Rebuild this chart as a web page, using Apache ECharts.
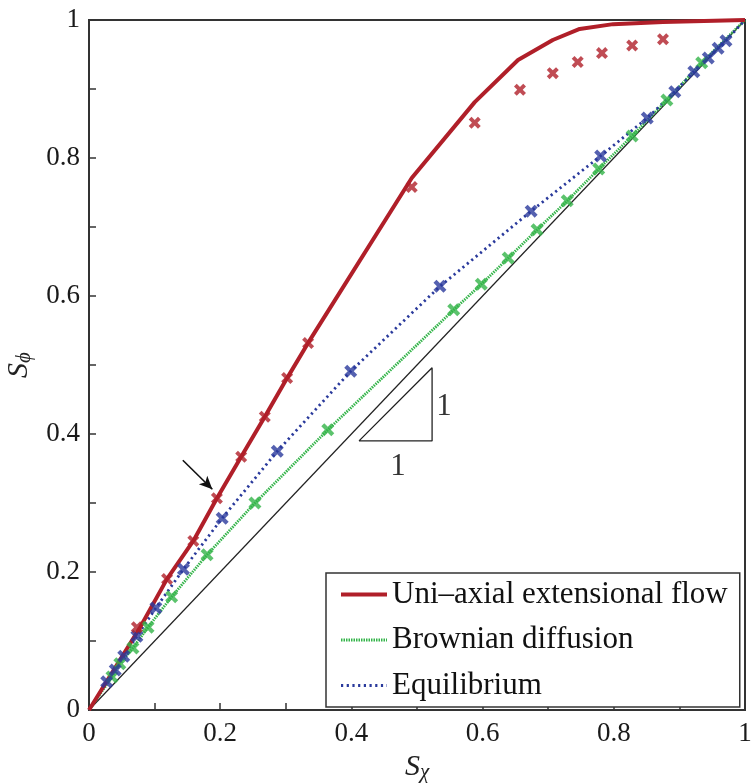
<!DOCTYPE html>
<html>
<head>
<meta charset="utf-8">
<title>S_phi vs S_chi</title>
<script src="https://cdn.jsdelivr.net/npm/echarts@6/dist/echarts.min.js"></script>
<style>
  html, body { margin: 0; padding: 0; background: #fff; }
  #main { width: 751px; height: 783px; }
</style>
</head>
<body>
<div id="main"></div>
<script type="text/javascript">
// ticks
var tickLabels = ['0', '0.2', '0.4', '0.6', '0.8', '1'];

// uni-axial extensional flow: model curve (solid) and simulation crosses
var flowLine = [[0, 0], [0.078, 0.12], [0.119, 0.19], [0.159, 0.245], [0.195, 0.307], [0.232, 0.367],
    [0.268, 0.425], [0.302, 0.481], [0.334, 0.532], [0.492, 0.771], [0.588, 0.881], [0.654, 0.942],
    [0.707, 0.971], [0.748, 0.987], [0.799, 0.994], [0.875, 0.997], [1, 1]];
var flowPts = [[0.073, 0.12], [0.119, 0.19], [0.159, 0.245], [0.195, 0.307], [0.232, 0.367],
    [0.268, 0.425], [0.302, 0.481], [0.334, 0.532], [0.492, 0.758], [0.588, 0.851], [0.657, 0.899],
    [0.707, 0.923], [0.745, 0.939], [0.782, 0.952], [0.828, 0.963], [0.875, 0.972]];

// brownian diffusion
var brownPts = [[0.035, 0.048], [0.047, 0.067], [0.067, 0.09], [0.09, 0.12], [0.126, 0.164],
    [0.18, 0.225], [0.253, 0.3], [0.364, 0.406], [0.556, 0.58], [0.598, 0.617], [0.639, 0.655],
    [0.683, 0.696], [0.729, 0.738], [0.777, 0.784], [0.828, 0.832], [0.881, 0.884], [0.934, 0.938]];

// equilibrium
var equilPts = [[0.027, 0.041], [0.04, 0.058], [0.053, 0.078], [0.073, 0.107], [0.102, 0.148],
    [0.144, 0.204], [0.203, 0.278], [0.287, 0.375], [0.399, 0.491], [0.535, 0.614], [0.674, 0.723],
    [0.78, 0.803], [0.851, 0.858], [0.893, 0.896], [0.922, 0.925], [0.944, 0.945], [0.959, 0.959],
    [0.971, 0.97]];

var diagonal = [[0, 0], [1, 1]];
var slopeTri = [[0.4116, 0.39], [0.523, 0.39], [0.523, 0.496], [0.4116, 0.39]];
var slopeText = [[0.471, 0.352], [0.541, 0.439]];
var arrow = [[0.143, 0.362], [0.188, 0.32]];

var RED = '#b01f29', GREEN = '#33b449', BLUE = '#2a3a9c';
var FONT = '"Times New Roman", "Liberation Serif", serif';
var cross = 'path://M2.3,0L5,2.7L7.7,0L10,2.3L7.3,5L10,7.7L7.7,10L5,7.3L2.3,10L0,7.7L2.7,5L0,2.3Z';

function withEnds(pts) {
    return [[0, 0]].concat(pts, [[1, 1]]);
}

var nameRich = {
    i: { fontFamily: FONT, fontStyle: 'italic', fontSize: 30, color: '#222' },
    s: { fontFamily: FONT, fontStyle: 'italic', fontSize: 21, color: '#222', padding: [12, 0, 0, 0] }
};

function tickFmt(v) {
    var k = Math.round(v * 10);
    return k % 2 === 0 ? tickLabels[k / 2] : '';
}

var myChart = echarts.init(document.getElementById('main'));

myChart.setOption({
    animation: false,
    backgroundColor: '#fff',
    textStyle: { fontFamily: FONT },
    grid: {
        left: 89, top: 20, width: 656, height: 690,
        outerBoundsMode: 'none', containLabel: false,
        show: true, borderColor: '#333', borderWidth: 2, backgroundColor: 'transparent'
    },
    legend: {
        left: 326, top: 573,
        orient: 'vertical',
        data: [
            { name: 'Uni\u2013axial extensional flow', lineStyle: { width: 4 } },
            { name: 'Brownian diffusion', lineStyle: { width: 2.8 } },
            { name: 'Equilibrium', lineStyle: { width: 2.8 } }
        ],
        backgroundColor: '#fff',
        borderColor: '#333', borderWidth: 1.5, borderRadius: 0,
        padding: [6, 12, 6, 13],
        itemWidth: 46, itemHeight: 14, itemGap: 14.5,
        itemStyle: { opacity: 0 },
        textStyle: { fontFamily: FONT, fontSize: 31, lineHeight: 30, color: '#111' }
    },
    xAxis: {
        type: 'value', min: 0, max: 1, interval: 0.1,
        name: '{i|S}{s|\u03c7}',
        nameLocation: 'middle', nameGap: 38,
        nameTextStyle: { rich: nameRich },
        axisLine: { show: true, lineStyle: { color: '#333', width: 2 } },
        axisTick: { show: true, inside: true, length: 7, lineStyle: { color: '#333', width: 1.5 } },
        splitLine: { show: false },
        axisLabel: { fontFamily: FONT, fontSize: 27, color: '#1a1a1a', margin: 10, formatter: tickFmt }
    },
    yAxis: {
        type: 'value', min: 0, max: 1, interval: 0.1,
        name: '{i|S}{s|\u03d5}',
        nameLocation: 'middle', nameGap: 52, nameRotate: 90,
        nameTextStyle: { rich: nameRich },
        axisLine: { show: true, lineStyle: { color: '#333', width: 2 } },
        axisTick: { show: true, inside: true, length: 7, lineStyle: { color: '#333', width: 1.5 } },
        splitLine: { show: false },
        axisLabel: { fontFamily: FONT, fontSize: 27, color: '#1a1a1a', margin: 9, formatter: tickFmt }
    },
    series: [
        {
            name: 'diag', type: 'line', data: diagonal, symbol: 'none', silent: true,
            lineStyle: { color: '#222', width: 1.2 }, z: 2
        },
        {
            name: 'tri', type: 'line', data: slopeTri, symbol: 'none', silent: true,
            lineStyle: { color: '#222', width: 1.3 }, z: 2
        },
        {
            name: 'txt', type: 'scatter', data: slopeText, symbolSize: 0, silent: true,
            label: {
                show: true, position: 'inside', formatter: '1',
                fontFamily: FONT, fontSize: 31, color: '#000'
            }
        },
        {
            name: 'arr', type: 'line', data: [], silent: true,
            markLine: {
                silent: true, symbol: ['none', 'arrow'], symbolSize: [9, 13],
                label: { show: false },
                lineStyle: { color: '#111', width: 1.6, type: 'solid' },
                data: [[{ coord: arrow[0] }, { coord: arrow[1] }]]
            }
        },
        {
            name: 'Brownian diffusion', type: 'line', data: withEnds(brownPts), symbol: 'none',
            color: GREEN, lineStyle: { color: GREEN, width: 2.8, type: [1.5, 1] }, z: 3
        },
        {
            name: 'Equilibrium', type: 'line', data: withEnds(equilPts), symbol: 'none',
            color: BLUE, lineStyle: { color: BLUE, width: 2.8, type: [2.2, 3.5] }, z: 3
        },
        {
            name: 'Uni\u2013axial extensional flow', type: 'line', data: flowLine, symbol: 'none',
            color: RED, lineStyle: { color: RED, width: 4 }, z: 4
        },
        {
            name: 'bpts', type: 'scatter', data: brownPts, symbol: cross, symbolSize: 13,
            itemStyle: { color: GREEN }, z: 5
        },
        {
            name: 'epts', type: 'scatter', data: equilPts, symbol: cross, symbolSize: 13,
            itemStyle: { color: BLUE }, z: 5
        },
        {
            name: 'fpts', type: 'scatter', data: flowPts, symbol: cross, symbolSize: 12,
            itemStyle: { color: RED }, z: 5
        }
    ]
});
</script>
</body>
</html>
